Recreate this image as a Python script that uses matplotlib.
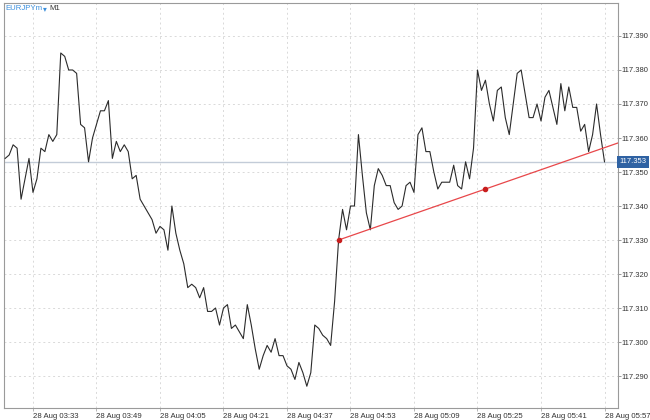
import matplotlib
matplotlib.use("Agg")
import matplotlib.pyplot as plt
import matplotlib.dates as mdates
import pandas as pd

plt.rcParams["font.family"] = ["Liberation Sans", "DejaVu Sans"]

# EURJPYm, M1 closes, 28 Aug 03:26 .. 05:57
start = "2024-08-28 03:26"
closes = [
    117.354, 117.355, 117.358, 117.357, 117.342, 117.348, 117.354, 117.344,
    117.348, 117.357, 117.356, 117.361, 117.359, 117.361, 117.385, 117.384,
    117.380, 117.380, 117.379, 117.364, 117.363, 117.353, 117.360, 117.364,
    117.368, 117.368, 117.371, 117.354, 117.359, 117.356, 117.358, 117.356,
    117.348, 117.349, 117.342, 117.340, 117.338, 117.336, 117.332, 117.334,
    117.333, 117.327, 117.340, 117.332, 117.327, 117.323, 117.316, 117.317,
    117.316, 117.313, 117.316, 117.309, 117.309, 117.310, 117.305, 117.310,
    117.311, 117.304, 117.305, 117.303, 117.301, 117.311, 117.305, 117.298,
    117.292, 117.296, 117.299, 117.297, 117.301, 117.296, 117.296, 117.293,
    117.292, 117.289, 117.294, 117.291, 117.287, 117.291, 117.305, 117.304,
    117.302, 117.301, 117.299, 117.312, 117.330, 117.339, 117.333, 117.340,
    117.340, 117.361, 117.349, 117.338, 117.333, 117.346, 117.351, 117.349,
    117.346, 117.346, 117.341, 117.339, 117.340, 117.346, 117.347, 117.344,
    117.361, 117.363, 117.356, 117.356, 117.350, 117.345, 117.347, 117.347,
    117.347, 117.352, 117.346, 117.345, 117.353, 117.348, 117.357, 117.380,
    117.374, 117.377, 117.370, 117.365, 117.374, 117.375, 117.366, 117.361,
    117.370, 117.379, 117.380, 117.373, 117.366, 117.366, 117.370, 117.365,
    117.372, 117.374, 117.369, 117.364, 117.376, 117.368, 117.375, 117.369,
    117.369, 117.362, 117.364, 117.356, 117.361, 117.370, 117.361, 117.353,
]
times = pd.date_range(start, periods=len(closes), freq="min")

current_price = 117.353
trend_times = pd.to_datetime(["2024-08-28 04:50", "2024-08-28 05:27"])
trend_prices = [117.330, 117.345]

y_ticks = [117.290, 117.300, 117.310, 117.320, 117.330, 117.340,
           117.350, 117.360, 117.370, 117.380, 117.390]
x_ticks = pd.date_range("2024-08-28 03:33", "2024-08-28 05:57", freq="16min")

fig = plt.figure(figsize=(6.5, 4.2), dpi=100)
ax = fig.add_axes((4 / 650, 12 / 420, 614 / 650, 405 / 420))

x_left = pd.Timestamp("2024-08-28 03:25:42")
x_right = pd.Timestamp("2024-08-28 06:00:24")
ax.set_xlim(x_left, x_right)
ax.set_ylim(117.2806, 117.3997)

ax.grid(True, color="#d9d9d9", linestyle=(0, (2, 3)), linewidth=0.7)
ax.set_axisbelow(True)

ax.axhline(current_price, color="#c3ccd8", linewidth=1.0, zorder=1)

ax.plot(times, closes, color="#2b2b2b", linewidth=0.8, zorder=3)

# trend line: ray from the first anchor through the second to the right edge
x0, x1 = mdates.date2num(trend_times[0]), mdates.date2num(trend_times[1])
slope = (trend_prices[1] - trend_prices[0]) / (x1 - x0)
xr = mdates.date2num(x_right)
ax.plot([trend_times[0], x_right],
        [trend_prices[0], trend_prices[0] + slope * (xr - x0)],
        color="#e8474a", linewidth=0.9, zorder=4)
ax.plot(trend_times, trend_prices, "o", color="#c81e1e", markersize=3, zorder=5)

ax.set_yticks(y_ticks)
ax.yaxis.tick_right()
ax.yaxis.set_major_formatter(matplotlib.ticker.FormatStrFormatter("%.3f"))
ax.set_xticks(x_ticks)
ax.xaxis.set_major_formatter(mdates.DateFormatter("%d %b %H:%M"))
ax.tick_params(axis="y", length=2, width=0.6, color="#888888", pad=0.5,
               labelsize=5.5, labelcolor="#333333")
ax.tick_params(axis="x", length=2, width=0.6, color="#aaaaaa", pad=1.5,
               labelsize=5.6, labelcolor="#333333")
for lbl in ax.get_xticklabels():
    lbl.set_horizontalalignment("left")

for side in ["left", "top", "bottom", "right"]:
    ax.spines[side].set_color("#9a9a9a")
    ax.spines[side].set_linewidth(0.8)

# current price tag on the price scale
ax.text(1.002, current_price, "117.353", transform=ax.get_yaxis_transform(),
        ha="left", va="center", fontsize=5.5, color="white",
        bbox=dict(boxstyle="square,pad=0.3", facecolor="#2f62a3", edgecolor="none"),
        zorder=6, clip_on=False)

fig.text(5 / 650, 1 - 9 / 420, "EURJPYm", color="#3b8fdc", fontsize=5.6, va="center")
fig.text(43 / 650, 1 - 9 / 420, "\u25be", color="#3b8fdc", fontsize=5.5, va="center",
         family="DejaVu Sans")
fig.text(49 / 650, 1 - 9 / 420, "M1", color="#333333", fontsize=5.6, va="center")

fig.savefig("out.png", dpi=100)
